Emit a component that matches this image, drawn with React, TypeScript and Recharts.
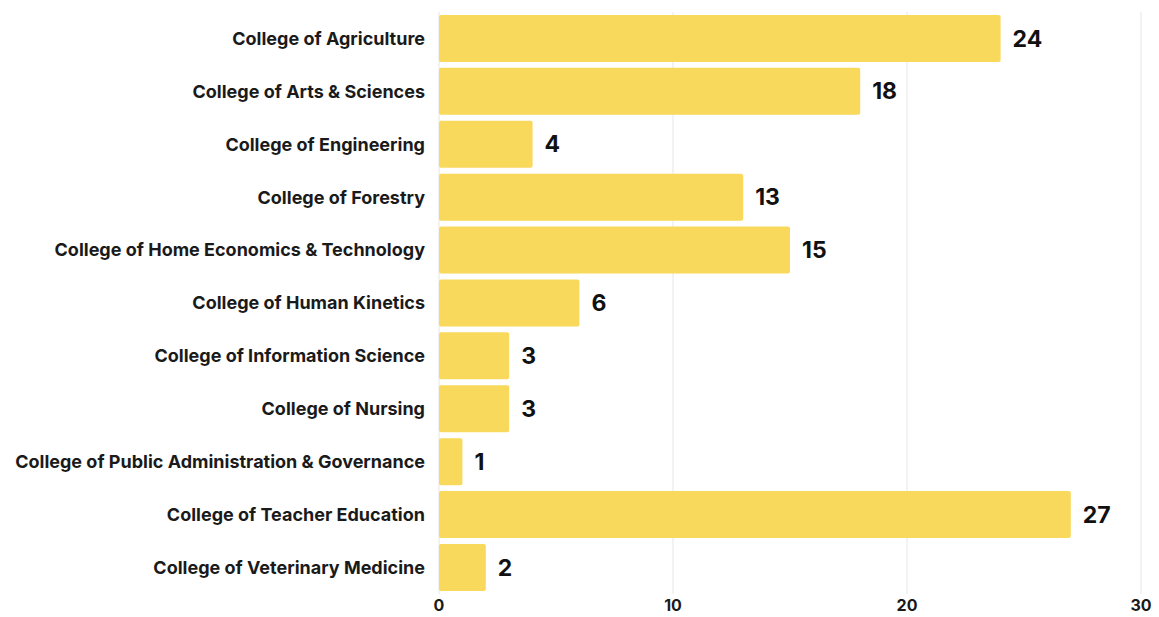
import { BarChart, Bar, XAxis, YAxis, CartesianGrid, LabelList } from 'recharts';

const colleges = [
  'College of Agriculture',
  'College of Arts & Sciences',
  'College of Engineering',
  'College of Forestry',
  'College of Home Economics & Technology',
  'College of Human Kinetics',
  'College of Information Science',
  'College of Nursing',
  'College of Public Administration & Governance',
  'College of Teacher Education',
  'College of Veterinary Medicine',
];

const counts = [24, 18, 4, 13, 15, 6, 3, 3, 1, 27, 2];

const xTicks = [0, 10, 20, 30];

const data = colleges.map((name, i) => ({ name, value: counts[i] }));

const fontFamily = 'Inter, "Noto Sans", sans-serif';

export default function App() {
  return (
    <div style={{ position: 'absolute', left: 0, top: 0, background: '#fff', fontFamily }}>
      <BarChart
        width={1159}
        height={617}
        data={data}
        layout="vertical"
        margin={{ top: 12, right: 18, bottom: 1, left: 0 }}
        barCategoryGap="5.5%"
      >
        <CartesianGrid horizontal={false} stroke="#e6e6e6" />
        <XAxis
          type="number"
          domain={[0, 30]}
          ticks={xTicks}
          axisLine={false}
          tickLine={false}
          tickSize={0}
          tickMargin={6}
          height={22}
          tick={{ fill: '#1a1a1a', fontSize: 16, fontWeight: 700, fontFamily }}
        />
        <YAxis
          type="category"
          dataKey="name"
          width={439}
          axisLine={false}
          tickLine={false}
          tickSize={0}
          tickMargin={14}
          interval={0}
          tick={{ fill: '#1a1a1a', fontSize: 18, fontWeight: 700, fontFamily }}
        />
        <Bar dataKey="value" fill="#f9d95b" radius={2} isAnimationActive={false}>
          <LabelList
            dataKey="value"
            position="right"
            offset={12}
            style={{ fill: '#111', fontSize: 23, fontWeight: 700, fontFamily }}
          />
        </Bar>
      </BarChart>
    </div>
  );
}
